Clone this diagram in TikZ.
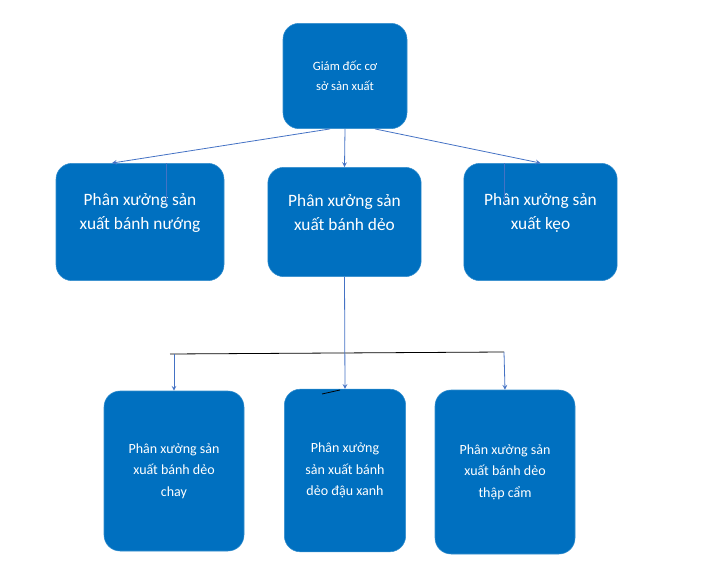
\documentclass[tikz,border=0pt]{standalone}
\usepackage{fontspec}
\setmainfont{Carlito}
\begin{document}
\begin{tikzpicture}[
    x=0.75pt, y=-0.75pt,
    unit/.style={rectangle, fill=boxblue, draw=boxblue!80!white, text=white, rounded corners=12pt, align=center, inner sep=0pt},
    link/.style={draw=lineblue, semithick, ->, >=stealth},
    bar/.style={draw=black, semithick}
]
    \definecolor{boxblue}{HTML}{0070C0}
    \definecolor{lineblue}{HTML}{4472C4}
    \useasboundingbox (0,0) rectangle (728,581);

    % Director
    \node [unit, minimum width=93pt, minimum height=79pt, font=\fontsize{9.5}{15}\selectfont] (director) at (345,76) {Giám đốc cơ\\sở sản xuất};

    % Workshops
    \node [unit, minimum width=126pt, minimum height=88pt, font=\fontsize{13}{18}\selectfont, text depth=16pt] (baked) at (140,222) {Phân xưởng sản\\xuất bánh nướng};
    \node [unit, minimum width=115pt, minimum height=82pt, font=\fontsize{13}{18}\selectfont, text depth=14pt] (soft) at (344.5,222) {Phân xưởng sản\\xuất bánh dẻo};
    \node [unit, minimum width=115pt, minimum height=88pt, font=\fontsize{13}{18}\selectfont, text depth=16pt] (candy) at (540.5,222) {Phân xưởng sản\\xuất kẹo};

    % Soft cake sections
    \node [unit, minimum width=105pt, minimum height=120pt, font=\fontsize{10.5}{16}\selectfont] (veg) at (174,471) {Phân xưởng sản\\xuất bánh dẻo\\chay};
    \node [unit, minimum width=91pt, minimum height=122pt, font=\fontsize{10.5}{16}\selectfont] (bean) at (345,470.5) {Phân xưởng\\sản xuất bánh\\dẻo đậu xanh};
    \node [unit, minimum width=105pt, minimum height=123pt, font=\fontsize{10.5}{16}\selectfont] (mixed) at (505,472) {Phân xưởng sản\\xuất bánh dẻo\\thập cẩm};

    % Junctions
    \coordinate (jl) at (170,354);
    \coordinate (jr) at (504,352);

    % Arrows
    \draw [link] (director.south) ++(-15,0) -- ([xshift=-21pt]baked.north);
    \draw [link] (director.south) -- (soft.north);
    \draw [link] (director.south) ++(30,0) -- ([xshift=0pt]candy.north);
    \draw [draw=lineblue] ([xshift=19.5pt]baked.north) -- ++(0,40);
    \draw [draw=lineblue] ([xshift=-27.4pt]candy.north) -- ++(0,40);
    \draw [bar] (jl) -- (jr);
    \draw [link] (174,354) -- (veg.north);
    \draw [link] (soft.south) -- (bean.north);
    \draw [link] (jr) -- (mixed.north);
    \draw [bar] (322,394) -- (340,390);
\end{tikzpicture}
\end{document}
